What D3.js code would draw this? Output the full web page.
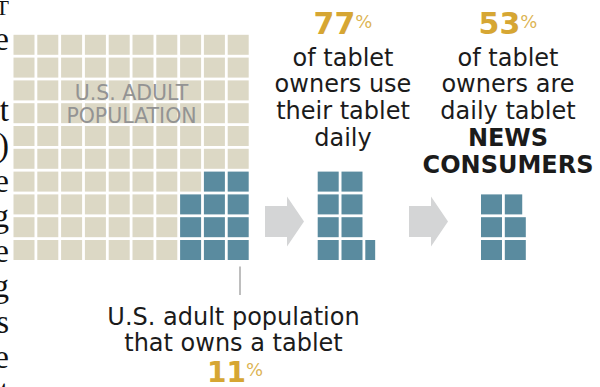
<!DOCTYPE html>
<html><head><meta charset="utf-8">
<script src="https://cdn.jsdelivr.net/npm/d3@7"></script>
<style>body{margin:0;background:#fff}svg{display:block}</style>
</head><body><svg id="c" width="600" height="387"></svg>
<script>
// ---- data ----
const gridCols = 10, gridRows = 10;
const adultOwnPct = 11;        // % of U.S. adults owning a tablet
const dailyUsePct = 77;        // % of owners using tablet daily
const dailyNewsPct = 53;       // % of owners who are daily tablet news consumers
const gridLabel = ["U.S. ADULT", "POPULATION"];
const bottomLabel = ["U.S. adult population", "that owns a tablet"];
const dailyLabel = ["of tablet", "owners use", "their tablet", "daily"];
const newsLabel = ["of tablet", "owners are", "daily tablet", "NEWS", "CONSUMERS"];
const newsBold = [false, false, false, true, true];
const marginLetters = ["T", "e", "", "t", ")", "e", "g", "e", "g", "s", "e", "t"];

// ---- style ----
const TAN = "#dcd8c5", BLUE = "#5a8b9f", GOLD = "#d6a633", ARROW = "#d4d5d6", INK = "#1b1b1b";
const FONT = "DejaVu Sans";
const stepX = 23.8, stepY = 22.8, cellW = 21, cellH = 20;

const svg = d3.select("#c");

// margin letters (clipped serif text from surrounding page)
const my = d3.scaleLinear().domain([0, 11]).range([15, 15 + 11 * 35.3]);
svg.append("g").selectAll("text").data(marginLetters).join("text")
  .attr("x", 9).attr("y", (d, i) => my(i))
  .attr("text-anchor", "end")
  .attr("font-family", "Liberation Serif").attr("font-size", (d, i) => i === 0 ? 22 : 33).attr("fill", "#111")
  .text(d => d);

// main grid
const gx = d3.scaleLinear().domain([0, gridCols]).range([13.5, 13.5 + gridCols * stepX]);
const gy = d3.scaleLinear().domain([0, gridRows]).range([34.8, 34.8 + gridRows * stepY]);
const total = gridCols * gridRows;
const ownCount = Math.round(total * adultOwnPct / 100);
const blueSet = new Set();
for (let k = 0; k < ownCount; k++) {
  const r = gridRows - 1 - Math.floor(k / 3), c = gridCols - 1 - (k % 3);
  blueSet.add(r * gridCols + c);
}
const cells = d3.range(total).map(i => ({r: Math.floor(i / gridCols), c: i % gridCols, blue: blueSet.has(i)}));
svg.append("g").selectAll("rect").data(cells).join("rect")
  .attr("x", d => gx(d.c)).attr("y", d => gy(d.r))
  .attr("width", cellW).attr("height", cellH)
  .attr("fill", d => d.blue ? BLUE : TAN);

svg.append("g").selectAll("text").data(gridLabel).join("text")
  .attr("x", 131.5).attr("y", (d, i) => 100 + i * 23)
  .attr("text-anchor", "middle").attr("font-family", FONT).attr("font-size", 20.5)
  .attr("fill", "#939393")
  .text(d => d);

// sub groups
function group(x0, rows, pct) {
  const v = ownCount * pct / 100;
  const n = Math.ceil(v);
  const sx = d3.scaleLinear().domain([0, 1]).range([x0, x0 + stepX]);
  const sy = d3.scaleLinear().domain([0, 1]).range([240, 240 - stepY]);
  const data = d3.range(n).map(k => ({c: Math.floor(k / rows), r: k % rows, f: Math.min(1, v - k)}));
  svg.append("g").selectAll("rect").data(data).join("rect")
    .attr("x", d => sx(d.c)).attr("y", d => sy(d.r))
    .attr("width", d => cellW * d.f).attr("height", cellH)
    .attr("fill", BLUE);
}
group(317.7, 4, dailyUsePct);
group(481, 3, dailyNewsPct);

// arrows
function arrow(x0) {
  const p = d3.path();
  p.moveTo(x0, 206); p.lineTo(x0 + 22, 206); p.lineTo(x0 + 22, 196.5);
  p.lineTo(x0 + 39, 221.5); p.lineTo(x0 + 22, 246.5); p.lineTo(x0 + 22, 237);
  p.lineTo(x0, 237); p.closePath();
  svg.append("path").attr("d", p.toString()).attr("fill", ARROW);
}
arrow(265); arrow(409);

// percentages
function pct(x, y, val, big) {
  const t = svg.append("text").attr("x", x).attr("y", y).attr("text-anchor", "middle")
    .attr("font-family", FONT).attr("fill", GOLD);
  t.append("tspan").attr("font-size", big).attr("font-weight", "bold").text(val);
  t.append("tspan").attr("font-size", 18).attr("dy", -6).attr("fill-opacity", 0.85).text("%");
}
pct(343, 34, dailyUsePct, 30);
pct(508, 34, dailyNewsPct, 30);
pct(235, 382, adultOwnPct, 28);

// middle text
svg.append("g").selectAll("text").data(dailyLabel).join("text")
  .attr("x", 343).attr("y", (d, i) => 65.5 + i * 26.8)
  .attr("text-anchor", "middle").attr("font-family", FONT).attr("font-size", 24).attr("fill", INK)
  .text(d => d);

svg.append("g").selectAll("text").data(newsLabel).join("text")
  .attr("x", 508).attr("y", (d, i) => 65.5 + i * 26.8)
  .attr("text-anchor", "middle").attr("font-family", FONT).attr("font-size", 24).attr("fill", INK)
  .attr("font-weight", (d, i) => newsBold[i] ? "bold" : "normal")
  .text(d => d);

// leader line and bottom text
svg.append("line").attr("x1", 240).attr("x2", 240).attr("y1", 266.5).attr("y2", 295)
  .attr("stroke", "#a8a8a8").attr("stroke-width", 1.5);
svg.append("g").selectAll("text").data(bottomLabel).join("text")
  .attr("x", 233.5).attr("y", (d, i) => 324.5 + i * 26)
  .attr("text-anchor", "middle").attr("font-family", FONT).attr("font-size", 24).attr("fill", INK)
  .text(d => d);
</script>
</body></html>
